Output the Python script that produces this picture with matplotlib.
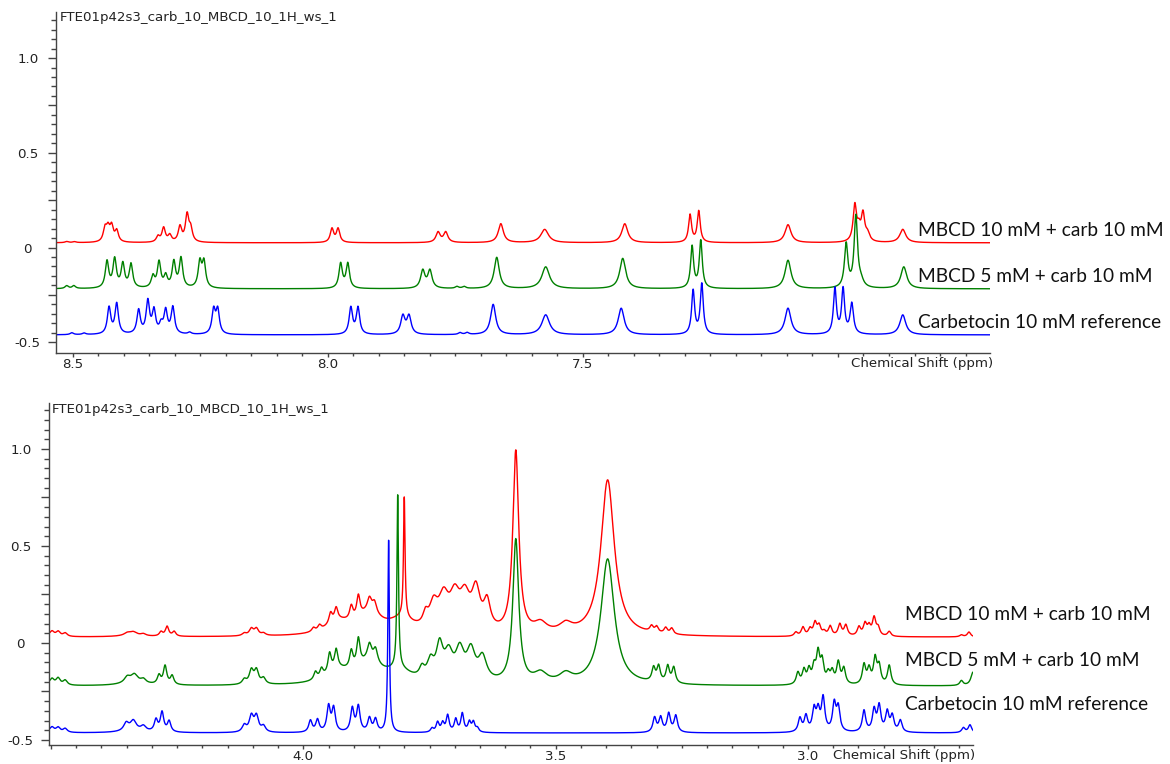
import numpy as np
import matplotlib
matplotlib.use("Agg")
import matplotlib.pyplot as plt

# ---------------------------------------------------------------------------
# Spectra data: baseline offset of each stacked trace and its peak table
# (chemical shift in ppm, peak height, half width at half maximum in ppm)
# ---------------------------------------------------------------------------
SERIES_LABELS = ["MBCD 10 mM + carb 10 mM",
                 "MBCD 5 mM + carb 10 mM",
                 "Carbetocin 10 mM reference"]
SERIES_COLORS = ["#ff0000", "#008000", "#0000ff"]
DATASET_NAME = "FTE01p42s3_carb_10_MBCD_10_1H_ws_1"

# aromatic / amide region (upper panel)
AROM_XLIM = (8.533, 6.702)
AROM_YLIM = (-0.555, 1.243)
AROM_BASE = [0.025, -0.218, -0.461]
AROM_RED = [
    (8.512, 0.006, 0.004), (8.497, 0.005, 0.004),
    (8.437, 0.068, 0.004), (8.431, 0.065, 0.004), (8.424, 0.078, 0.004), (8.414, 0.058, 0.004),
    (8.333, 0.030, 0.004), (8.322, 0.075, 0.004), (8.310, 0.035, 0.004),
    (8.290, 0.080, 0.004), (8.276, 0.140, 0.004), (8.269, 0.065, 0.004),
    (7.992, 0.072, 0.004), (7.980, 0.072, 0.004),
    (7.784, 0.054, 0.005), (7.769, 0.054, 0.005),
    (7.661, 0.100, 0.006), (7.575, 0.070, 0.009), (7.418, 0.100, 0.007),
    (7.290, 0.145, 0.0035), (7.273, 0.165, 0.0035),
    (7.098, 0.095, 0.007),
    (6.967, 0.190, 0.004), (6.959, 0.060, 0.004), (6.951, 0.140, 0.004), (6.942, 0.040, 0.005),
    (6.873, 0.070, 0.007),
]
AROM_GREEN = [
    (8.512, 0.015, 0.004), (8.498, 0.015, 0.004),
    (8.433, 0.140, 0.004), (8.418, 0.150, 0.004), (8.402, 0.125, 0.004), (8.386, 0.125, 0.004),
    (8.343, 0.060, 0.004), (8.331, 0.135, 0.004), (8.318, 0.060, 0.004),
    (8.302, 0.135, 0.004), (8.288, 0.155, 0.004),
    (8.251, 0.133, 0.004), (8.243, 0.133, 0.004),
    (7.975, 0.130, 0.004), (7.961, 0.130, 0.004),
    (7.814, 0.093, 0.005), (7.800, 0.093, 0.005),
    (7.747, 0.010, 0.004), (7.733, 0.010, 0.004),
    (7.669, 0.165, 0.006), (7.573, 0.115, 0.009), (7.422, 0.160, 0.007),
    (7.286, 0.220, 0.0035), (7.269, 0.250, 0.0035),
    (7.098, 0.150, 0.007),
    (6.984, 0.230, 0.004), (6.965, 0.375, 0.004), (6.955, 0.030, 0.006),
    (6.871, 0.115, 0.007),
]
AROM_BLUE = [
    (8.502, 0.010, 0.004), (8.478, 0.008, 0.004),
    (8.429, 0.140, 0.004), (8.414, 0.160, 0.004),
    (8.371, 0.125, 0.004), (8.353, 0.170, 0.004), (8.341, 0.120, 0.004),
    (8.327, 0.045, 0.004), (8.318, 0.120, 0.004), (8.304, 0.140, 0.004),
    (8.271, 0.010, 0.004),
    (8.224, 0.125, 0.004), (8.216, 0.125, 0.004),
    (7.955, 0.140, 0.004), (7.941, 0.140, 0.004),
    (7.853, 0.095, 0.005), (7.841, 0.095, 0.005),
    (7.741, 0.010, 0.004), (7.727, 0.010, 0.004),
    (7.676, 0.160, 0.006), (7.573, 0.105, 0.009), (7.425, 0.140, 0.007),
    (7.284, 0.230, 0.0035), (7.267, 0.265, 0.0035),
    (7.098, 0.140, 0.007),
    (7.006, 0.240, 0.0035), (6.990, 0.235, 0.0035), (6.973, 0.160, 0.004),
    (6.873, 0.105, 0.007),
]

# aliphatic / sugar region (lower panel)
ALIPH_XLIM = (4.504, 2.673)
ALIPH_YLIM = (-0.526, 1.237)
ALIPH_BASE = [0.030, -0.222, -0.464]
ALIPH_RED = [
    (4.512, 0.020, 0.006), (4.498, 0.025, 0.005), (4.486, 0.025, 0.005), (4.472, 0.018, 0.005),
    (4.349, 0.012, 0.007), (4.337, 0.016, 0.008), (4.317, 0.010, 0.006), (4.340, 0.008, 0.025),
    (4.282, 0.022, 0.004), (4.270, 0.050, 0.004), (4.256, 0.024, 0.004),
    (4.117, 0.013, 0.005), (4.103, 0.035, 0.005), (4.093, 0.035, 0.005), (4.079, 0.012, 0.005),
    (3.930, 0.060, 0.030), (3.870, 0.100, 0.030), (3.805, 0.070, 0.030),
    (3.980, 0.020, 0.004), (3.968, 0.025, 0.004), (3.946, 0.055, 0.004), (3.935, 0.065, 0.004),
    (3.905, 0.070, 0.004), (3.891, 0.110, 0.004), (3.869, 0.065, 0.005), (3.859, 0.055, 0.005),
    (3.800, 0.620, 0.0018),
    (3.758, 0.060, 0.006), (3.742, 0.120, 0.010), (3.722, 0.160, 0.012), (3.700, 0.160, 0.012),
    (3.680, 0.160, 0.012), (3.658, 0.200, 0.010), (3.636, 0.140, 0.008),
    (3.579, 0.940, 0.007),
    (3.530, 0.050, 0.015), (3.480, 0.045, 0.015),
    (3.397, 0.805, 0.016),
    (3.310, 0.030, 0.004), (3.300, 0.030, 0.004), (3.282, 0.030, 0.004), (3.270, 0.030, 0.004),
    (3.024, 0.020, 0.004), (3.010, 0.045, 0.004), (2.996, 0.035, 0.004), (2.986, 0.065, 0.004),
    (2.978, 0.050, 0.004), (2.968, 0.020, 0.004), (2.956, 0.050, 0.004), (2.937, 0.060, 0.004),
    (2.925, 0.055, 0.004), (2.899, 0.045, 0.004), (2.887, 0.060, 0.004), (2.879, 0.045, 0.004),
    (2.869, 0.090, 0.004), (2.861, 0.040, 0.004), (2.839, 0.025, 0.004),
    (2.696, 0.010, 0.004), (2.681, 0.025, 0.004),
]
ALIPH_GREEN = [
    (4.512, 0.025, 0.006), (4.498, 0.030, 0.005), (4.486, 0.035, 0.005), (4.472, 0.025, 0.005),
    (4.349, 0.030, 0.007), (4.335, 0.040, 0.008), (4.317, 0.020, 0.006), (4.335, 0.015, 0.030),
    (4.286, 0.045, 0.004), (4.274, 0.095, 0.004), (4.260, 0.045, 0.004),
    (4.117, 0.025, 0.005), (4.103, 0.070, 0.005), (4.093, 0.070, 0.005), (4.079, 0.030, 0.005),
    (3.930, 0.060, 0.030), (3.870, 0.100, 0.030), (3.810, 0.060, 0.030),
    (3.976, 0.040, 0.004), (3.964, 0.045, 0.004), (3.948, 0.100, 0.004), (3.935, 0.100, 0.004),
    (3.905, 0.090, 0.004), (3.891, 0.140, 0.004), (3.869, 0.080, 0.005), (3.857, 0.070, 0.005),
    (3.813, 0.890, 0.0018),
    (3.765, 0.050, 0.006), (3.748, 0.090, 0.008), (3.730, 0.170, 0.008), (3.712, 0.130, 0.010),
    (3.690, 0.150, 0.010), (3.668, 0.150, 0.010), (3.645, 0.120, 0.010),
    (3.579, 0.740, 0.007),
    (3.530, 0.050, 0.015), (3.480, 0.045, 0.015),
    (3.397, 0.650, 0.016),
    (3.306, 0.070, 0.004), (3.296, 0.080, 0.004), (3.278, 0.085, 0.004), (3.266, 0.080, 0.004),
    (3.020, 0.060, 0.004), (3.008, 0.070, 0.004), (2.998, 0.070, 0.004), (2.988, 0.080, 0.004),
    (2.980, 0.150, 0.004), (2.972, 0.110, 0.004), (2.960, 0.050, 0.004), (2.952, 0.060, 0.004),
    (2.940, 0.110, 0.004), (2.929, 0.080, 0.004), (2.889, 0.100, 0.004), (2.879, 0.075, 0.004),
    (2.867, 0.130, 0.004), (2.859, 0.090, 0.004), (2.839, 0.100, 0.004),
    (2.696, 0.025, 0.004), (2.673, 0.070, 0.005),
]
ALIPH_BLUE = [
    (4.512, 0.020, 0.006), (4.498, 0.025, 0.005), (4.486, 0.025, 0.005), (4.472, 0.020, 0.005),
    (4.351, 0.040, 0.006), (4.337, 0.050, 0.007), (4.317, 0.025, 0.006), (4.335, 0.010, 0.030),
    (4.292, 0.060, 0.004), (4.280, 0.100, 0.004), (4.266, 0.055, 0.004),
    (4.117, 0.035, 0.005), (4.103, 0.080, 0.005), (4.093, 0.080, 0.005), (4.079, 0.030, 0.005),
    (3.986, 0.060, 0.004), (3.972, 0.063, 0.004), (3.950, 0.130, 0.004), (3.940, 0.120, 0.004),
    (3.903, 0.120, 0.004), (3.891, 0.130, 0.004), (3.869, 0.070, 0.004), (3.857, 0.065, 0.004),
    (3.831, 0.990, 0.0018),
    (3.745, 0.020, 0.0035), (3.734, 0.050, 0.0035), (3.724, 0.045, 0.0035), (3.714, 0.085, 0.0035),
    (3.698, 0.065, 0.0035), (3.685, 0.095, 0.0035), (3.671, 0.050, 0.0035), (3.663, 0.050, 0.0035),
    (3.655, 0.020, 0.0035),
    (3.304, 0.075, 0.004), (3.292, 0.075, 0.004), (3.276, 0.095, 0.004), (3.262, 0.085, 0.004),
    (3.016, 0.070, 0.004), (3.004, 0.080, 0.004), (2.988, 0.110, 0.004), (2.980, 0.100, 0.004),
    (2.970, 0.170, 0.004), (2.948, 0.140, 0.004), (2.940, 0.120, 0.004), (2.889, 0.110, 0.004),
    (2.869, 0.110, 0.004), (2.859, 0.130, 0.004), (2.843, 0.100, 0.004), (2.833, 0.080, 0.004),
    (2.817, 0.060, 0.004), (2.692, 0.025, 0.004), (2.679, 0.040, 0.004),
]

Y_TICKS = [-0.5, -0.25, 0.0, 0.25, 0.5, 0.75, 1.0]
Y_TICK_LABELS = ["-0.5", "", "0", "", "0.5", "", "1.0"]
AROM_XTICKS = [8.5, 8.0, 7.5, 7.0]
AROM_XTICK_LABELS = ["8.5", "8.0", "7.5", ""]
ALIPH_XTICKS = [4.5, 4.0, 3.5, 3.0]
ALIPH_XTICK_LABELS = ["", "4.0", "3.5", "3.0"]
XLABEL = "Chemical Shift (ppm)"

# ---------------------------------------------------------------------------
W, H = 1170, 764
fig = plt.figure(figsize=(W / 100, H / 100), dpi=100)
SMALL = dict(family="DejaVu Sans", size=9.6, color="#222222")
LEGEND_FONT = dict(family="Lato", size=13.8, color="#111111")


def px_axes(left, top, right, bottom):
    return fig.add_axes([left / W, 1 - bottom / H, (right - left) / W, (bottom - top) / H])


def lorentz_sum(ppm, base, peaks):
    y = np.full_like(ppm, base)
    for c, h, w in peaks:
        y += h * w * w / ((ppm - c) ** 2 + w * w)
    return y


def draw_panel(ax, xlim, ylim, bases, tables, xticks, xtick_labels):
    ppm = np.linspace(xlim[0], xlim[1], 12000)
    for base, peaks, col in zip(bases, tables, SERIES_COLORS):
        ax.plot(ppm, lorentz_sum(ppm, base, peaks), color=col, lw=1.0, solid_joinstyle="round")
    ax.set_xlim(*xlim)
    ax.set_ylim(*ylim)
    for s in ("top", "right"):
        ax.spines[s].set_visible(False)
    for s in ("left", "bottom"):
        ax.spines[s].set_color("#444444")
        ax.spines[s].set_linewidth(1.0)
    ax.set_xticks(xticks, labels=xtick_labels)
    lo, hi = sorted(xlim)
    ax.set_xticks(np.arange(np.ceil(lo / 0.05) * 0.05, hi, 0.05), minor=True)
    ax.set_yticks(Y_TICKS, labels=Y_TICK_LABELS)
    ax.set_yticks(np.arange(-0.5, ylim[1], 0.05), minor=True)
    ax.tick_params(axis="x", which="major", length=3.2, width=1, color="#444444", pad=0.6)
    ax.tick_params(axis="x", which="minor", length=2.2, width=1, color="#444444")
    ax.tick_params(axis="y", which="major", length=5.8, width=1, color="#444444", pad=14.5)
    ax.tick_params(axis="y", which="minor", length=3.6, width=1, color="#444444")
    for lbl in ax.get_xticklabels() + ax.get_yticklabels():
        lbl.set_fontfamily(SMALL["family"])
        lbl.set_fontsize(SMALL["size"])
        lbl.set_color(SMALL["color"])
    for lbl in ax.get_yticklabels():
        lbl.set_horizontalalignment("center")


def ftext(x, y, s, **kw):
    fig.text(x / W, 1 - y / H, s, **kw)


# upper panel
ax1 = px_axes(56, 12, 990, 352.7)
draw_panel(ax1, AROM_XLIM, AROM_YLIM, AROM_BASE, [AROM_RED, AROM_GREEN, AROM_BLUE],
           AROM_XTICKS, AROM_XTICK_LABELS)
ftext(60, 17, DATASET_NAME, ha="left", va="center", **SMALL)
ftext(993, 363, XLABEL, ha="right", va="center", **SMALL)
for label, yy in zip(SERIES_LABELS, [230, 277, 322]):
    ftext(918, yy, label, ha="left", va="center", **LEGEND_FONT)

# lower panel
ax2 = px_axes(49, 403, 973, 745)
draw_panel(ax2, ALIPH_XLIM, ALIPH_YLIM, ALIPH_BASE, [ALIPH_RED, ALIPH_GREEN, ALIPH_BLUE],
           ALIPH_XTICKS, ALIPH_XTICK_LABELS)
ftext(52, 409, DATASET_NAME, ha="left", va="center", **SMALL)
ftext(975, 756, XLABEL, ha="right", va="center", **SMALL)
for label, yy in zip(SERIES_LABELS, [615, 660, 705]):
    ftext(905, yy, label, ha="left", va="center", **LEGEND_FONT)

fig.savefig("out.png", dpi=100)
